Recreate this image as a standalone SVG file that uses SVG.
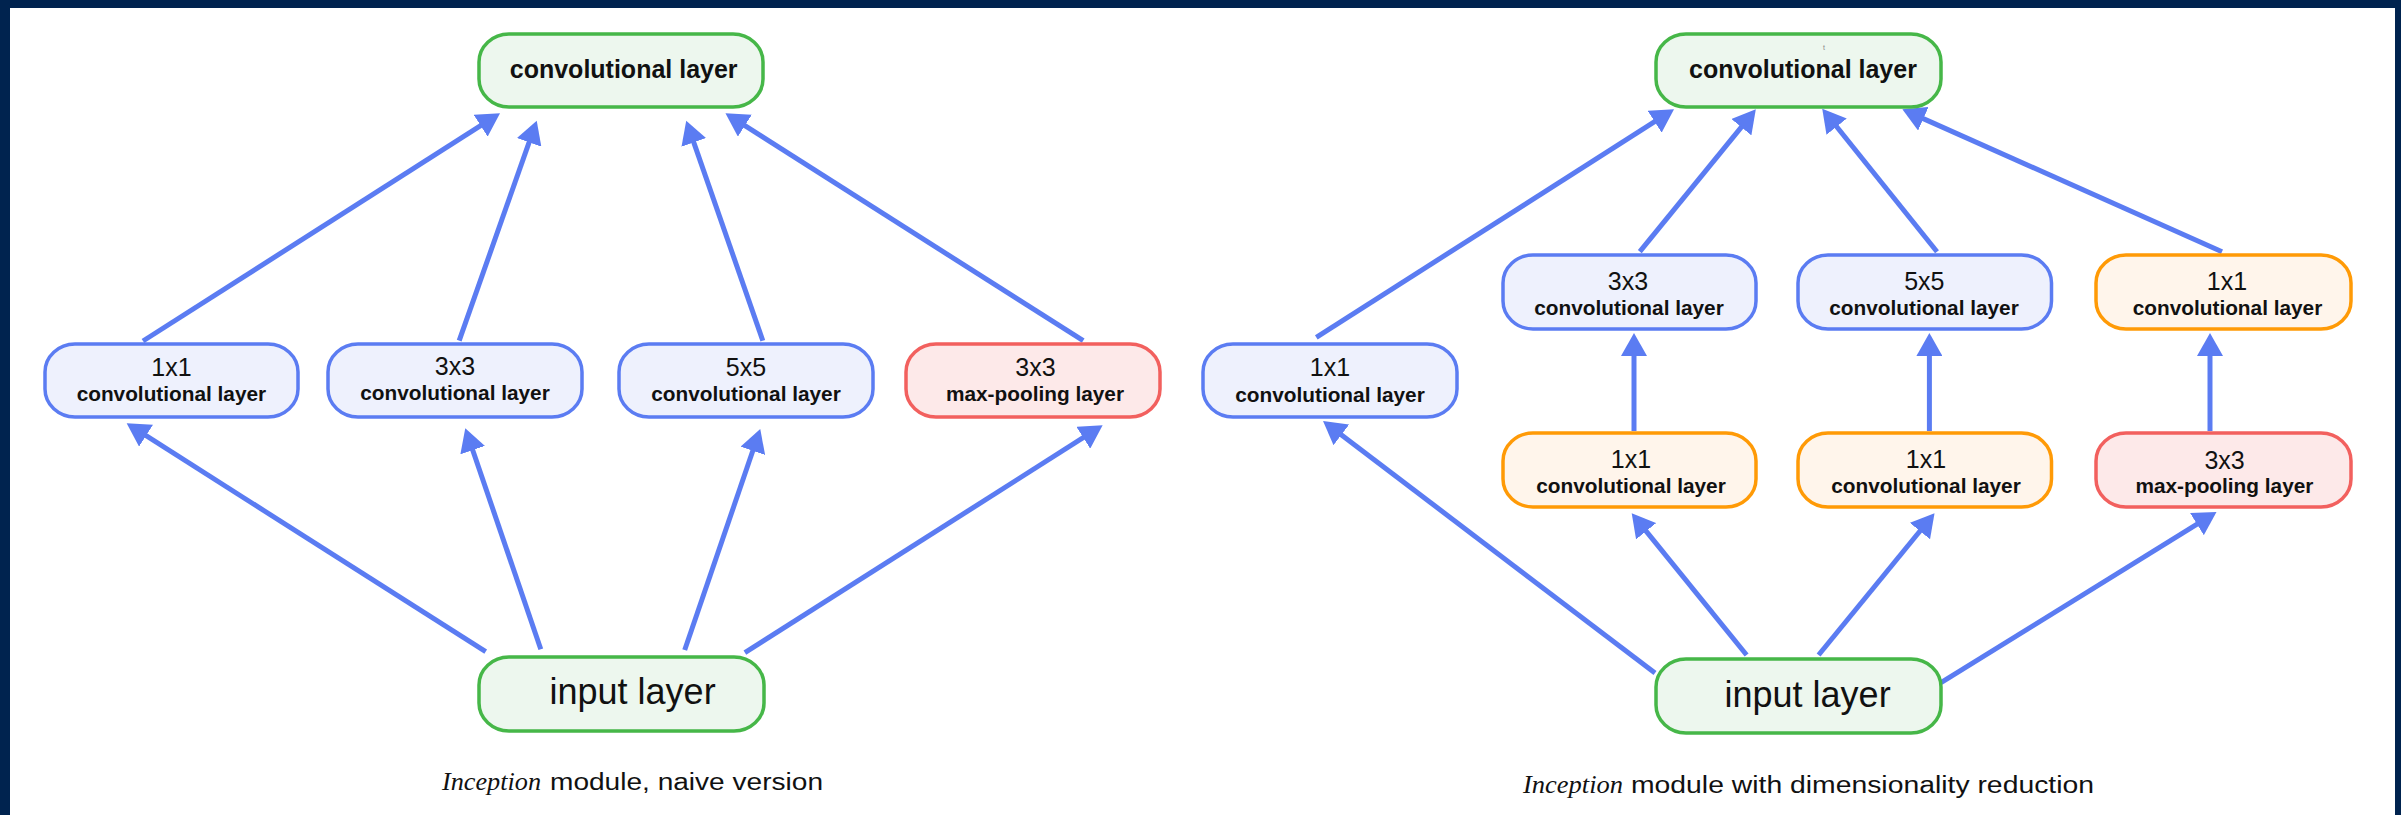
<svg xmlns="http://www.w3.org/2000/svg" width="2401" height="815" viewBox="0 0 2401 815">
<style>
.blue rect{fill:#eef1fd;stroke:#5b7cf2;stroke-width:3.5}
.green rect{fill:#edf7ee;stroke:#46b748;stroke-width:3.5}
.orange rect{fill:#fff5eb;stroke:#ff9a06;stroke-width:3.5}
.red rect{fill:#fde9e9;stroke:#f2605e;stroke-width:3.5}
text{font-family:"Liberation Sans",Arial,sans-serif;fill:#111;text-anchor:middle}
.big{font-size:25px;font-weight:bold}
.dim{font-size:25px}
.sub{font-size:20.8px;font-weight:bold}
.inp{font-size:36px}
.cap{font-size:23px;text-anchor:start}
.capi{font-family:"Liberation Serif","Times New Roman",serif;font-style:italic;font-size:25px;text-anchor:start}
#connectors line{stroke:#5b7cf2;stroke-width:5;marker-end:url(#ah)}
</style>
<defs>
<marker id="ah" markerUnits="userSpaceOnUse" markerWidth="24" markerHeight="26" refX="13" refY="13" orient="auto">
<path d="M0,0 L23,13 L0,26 Z" fill="#5b7cf2"/>
</marker>
</defs>
<rect x="0" y="0" width="2401" height="815" fill="#00234f"/>
<rect x="10" y="8" width="2385" height="807" fill="#ffffff"/>

<g id="connectors">
<line x1="143" y1="341" x2="491.6" y2="118.7"/>
<line x1="459.2" y1="340.7" x2="533.4" y2="130.1"/>
<line x1="762.8" y1="340.7" x2="689.5" y2="130.1"/>
<line x1="1083.2" y1="340.7" x2="733.9" y2="118.7"/>
<line x1="485.7" y1="651.7" x2="135.1" y2="428.7"/>
<line x1="540.8" y1="649.3" x2="468.5" y2="437.8"/>
<line x1="684.7" y1="650" x2="757" y2="438.5"/>
<line x1="744.9" y1="652.7" x2="1094.2" y2="430.7"/>
<line x1="1316.3" y1="337.3" x2="1665.6" y2="114.7"/>
<line x1="1639.8" y1="251.7" x2="1749.5" y2="117.1"/>
<line x1="1937" y1="251.7" x2="1828.5" y2="116.5"/>
<line x1="2222" y1="251.7" x2="1911.5" y2="113.4"/>
<line x1="1634" y1="431" x2="1634" y2="343"/>
<line x1="1929.4" y1="431" x2="1929.4" y2="343"/>
<line x1="2210" y1="431" x2="2210" y2="343"/>
<line x1="1655" y1="673" x2="1331" y2="427"/>
<line x1="1746.6" y1="655" x2="1638" y2="521.1"/>
<line x1="1818.6" y1="655" x2="1928.2" y2="521"/>
<line x1="1941" y1="682.7" x2="2208" y2="517.3"/>
</g>

<!-- Left: naive version -->
<g id="L_top" class="green">
<rect x="479" y="34" width="284" height="73" rx="30" ry="28"/>
<text class="big" x="623.7" y="78">convolutional layer</text>
</g>
<g id="L_1x1" class="blue">
<rect x="45" y="344" width="253" height="73" rx="30" ry="28"/>
<text class="dim" x="171.4" y="376">1x1</text>
<text class="sub" x="171.4" y="401">convolutional layer</text>
</g>
<g id="L_3x3" class="blue">
<rect x="328" y="344" width="254" height="73" rx="30" ry="28"/>
<text class="dim" x="455" y="375">3x3</text>
<text class="sub" x="455" y="400">convolutional layer</text>
</g>
<g id="L_5x5" class="blue">
<rect x="619" y="344" width="254" height="73" rx="30" ry="28"/>
<text class="dim" x="746" y="376">5x5</text>
<text class="sub" x="746" y="401">convolutional layer</text>
</g>
<g id="L_pool" class="red">
<rect x="906" y="344" width="254" height="73" rx="30" ry="28"/>
<text class="dim" x="1035.5" y="376">3x3</text>
<text class="sub" x="1035" y="401">max-pooling layer</text>
</g>
<g id="L_input" class="green">
<rect x="479" y="657" width="285" height="74" rx="30" ry="28"/>
<text class="inp" x="632.6" y="704">input layer</text>
</g>
<g id="L_caption">
<text class="capi" x="442" y="790" textLength="99" lengthAdjust="spacingAndGlyphs">Inception</text>
<text class="cap" x="550" y="790" textLength="273" lengthAdjust="spacingAndGlyphs">module, naive version</text>
</g>

<!-- Right: with dimensionality reduction -->
<g id="R_top" class="green">
<rect x="1656" y="34" width="285" height="73" rx="30" ry="28"/>
<text x="1824" y="50" style="font-size:7px;fill:#888">t</text>
<text class="big" x="1803" y="78">convolutional layer</text>
</g>
<g id="R_1x1" class="blue">
<rect x="1203" y="344" width="254" height="73" rx="30" ry="28"/>
<text class="dim" x="1330" y="376">1x1</text>
<text class="sub" x="1330" y="401.5">convolutional layer</text>
</g>
<g id="R_3x3" class="blue">
<rect x="1503" y="255" width="253" height="74" rx="30" ry="28"/>
<text class="dim" x="1628" y="290">3x3</text>
<text class="sub" x="1629" y="315">convolutional layer</text>
</g>
<g id="R_5x5" class="blue">
<rect x="1798" y="255" width="253.5" height="74" rx="30" ry="28"/>
<text class="dim" x="1924.3" y="290">5x5</text>
<text class="sub" x="1924" y="315">convolutional layer</text>
</g>
<g id="R_1x1b" class="orange">
<rect x="2096" y="255" width="255" height="74" rx="30" ry="28"/>
<text class="dim" x="2227" y="290">1x1</text>
<text class="sub" x="2227.5" y="315">convolutional layer</text>
</g>
<g id="R_red1" class="orange">
<rect x="1503" y="433" width="253" height="74" rx="30" ry="28"/>
<text class="dim" x="1631" y="468.3">1x1</text>
<text class="sub" x="1631" y="493.3">convolutional layer</text>
</g>
<g id="R_red2" class="orange">
<rect x="1798" y="433" width="253.5" height="74" rx="30" ry="28"/>
<text class="dim" x="1926" y="468.3">1x1</text>
<text class="sub" x="1926" y="493.3">convolutional layer</text>
</g>
<g id="R_pool" class="red">
<rect x="2096" y="433" width="255" height="74" rx="30" ry="28"/>
<text class="dim" x="2224.6" y="469">3x3</text>
<text class="sub" x="2224.4" y="493.3">max-pooling layer</text>
</g>
<g id="R_input" class="green">
<rect x="1656" y="659" width="285" height="74" rx="30" ry="28"/>
<text class="inp" x="1807.6" y="706.7">input layer</text>
</g>
<g id="R_caption">
<text class="capi" x="1523" y="793" textLength="100" lengthAdjust="spacingAndGlyphs">Inception</text>
<text class="cap" x="1631" y="793" textLength="463" lengthAdjust="spacingAndGlyphs">module with dimensionality reduction</text>
</g>
</svg>
